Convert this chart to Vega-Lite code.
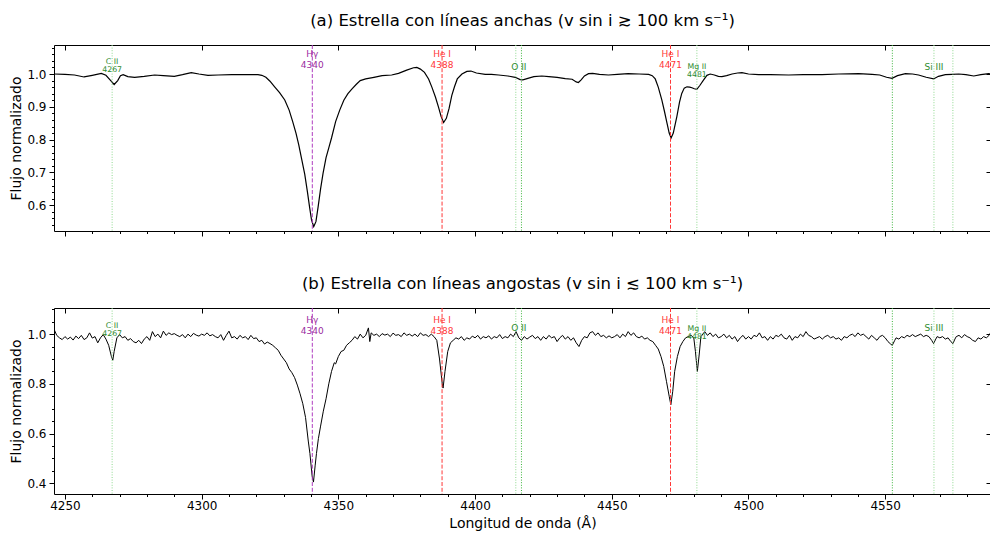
{
"$schema": "https://vega.github.io/schema/vega-lite/v6.json",
"padding": {"left": 9, "top": 12, "right": 0, "bottom": 5},
"spacing": 38,
"config": {"font": "DejaVu Sans", "view": {"stroke": "#000", "strokeWidth": 1}, "axis": {"grid": false, "domain": false, "tickColor": "#000", "labelColor": "#000", "titleColor": "#000", "labelFontSize": 12, "titleFontSize": 14, "titleFontWeight": "normal"}, "title": {"fontSize": 16.5, "fontWeight": "normal", "color": "#000"}},
"datasets": {
"specA": [
{"wl":4246,"flux":1.0},{"wl":4250,"flux":0.999},{"wl":4253.5,"flux":0.997},{"wl":4257,"flux":0.991},{"wl":4260,"flux":0.996},{"wl":4263.3,"flux":1.002},{"wl":4265,"flux":0.996},{"wl":4266.5,"flux":0.982},{"wl":4268,"flux":0.968},{"wl":4269.3,"flux":0.98},{"wl":4270.3,"flux":0.995},{"wl":4271.3,"flux":0.998},{"wl":4273,"flux":0.992},{"wl":4275.5,"flux":0.99},{"wl":4279,"flux":0.993},{"wl":4282.8,"flux":0.997},{"wl":4286,"flux":0.995},{"wl":4290,"flux":0.993},{"wl":4293,"flux":0.998},{"wl":4296.2,"flux":1.004},{"wl":4299,"flux":1.0},{"wl":4302.3,"flux":0.996},{"wl":4306,"flux":0.997},{"wl":4311,"flux":0.998},{"wl":4316,"flux":0.998},{"wl":4320.6,"flux":0.998},{"wl":4322,"flux":0.996},{"wl":4323.5,"flux":0.99},{"wl":4325,"flux":0.978},{"wl":4326.7,"flux":0.961},{"wl":4328.5,"flux":0.943},{"wl":4330.4,"flux":0.921},{"wl":4332,"flux":0.89},{"wl":4333.3,"flux":0.855},{"wl":4334.5,"flux":0.82},{"wl":4335.5,"flux":0.785},{"wl":4336.6,"flux":0.74},{"wl":4337.7,"flux":0.695},{"wl":4338.7,"flux":0.64},{"wl":4339.5,"flux":0.593},{"wl":4340.2,"flux":0.555},{"wl":4341,"flux":0.535},{"wl":4341.8,"flux":0.55},{"wl":4342.6,"flux":0.595},{"wl":4343.5,"flux":0.65},{"wl":4344.4,"flux":0.697},{"wl":4345.5,"flux":0.745},{"wl":4346.5,"flux":0.775},{"wl":4347.5,"flux":0.805},{"wl":4349,"flux":0.855},{"wl":4350.5,"flux":0.89},{"wl":4352,"flux":0.92},{"wl":4353.5,"flux":0.94},{"wl":4355,"flux":0.955},{"wl":4356.5,"flux":0.968},{"wl":4358,"flux":0.98},{"wl":4360,"flux":0.985},{"wl":4363,"flux":0.99},{"wl":4366,"flux":0.995},{"wl":4369.5,"flux":0.997},{"wl":4372,"flux":1.002},{"wl":4375,"flux":1.012},{"wl":4377.5,"flux":1.019},{"wl":4378.7,"flux":1.02},{"wl":4380,"flux":1.015},{"wl":4381.5,"flux":1.005},{"wl":4383,"flux":0.985},{"wl":4384.2,"flux":0.96},{"wl":4385.5,"flux":0.93},{"wl":4386.6,"flux":0.9},{"wl":4387.6,"flux":0.87},{"wl":4388.5,"flux":0.852},{"wl":4389.5,"flux":0.865},{"wl":4390.5,"flux":0.895},{"wl":4391.5,"flux":0.935},{"wl":4392.5,"flux":0.962},{"wl":4393.5,"flux":0.985},{"wl":4395.2,"flux":1.0},{"wl":4397,"flux":1.008},{"wl":4398.5,"flux":1.009},{"wl":4400.5,"flux":1.003},{"wl":4403.7,"flux":0.999},{"wl":4406,"flux":0.999},{"wl":4408.6,"flux":0.997},{"wl":4412,"flux":0.994},{"wl":4414.7,"flux":0.99},{"wl":4416.5,"flux":0.983},{"wl":4417.5,"flux":0.982},{"wl":4419,"flux":0.986},{"wl":4421.5,"flux":0.992},{"wl":4424.4,"flux":0.994},{"wl":4427,"flux":0.992},{"wl":4430,"flux":0.99},{"wl":4433,"flux":0.986},{"wl":4435.5,"flux":0.984},{"wl":4437,"flux":0.976},{"wl":4437.8,"flux":0.974},{"wl":4438.8,"flux":0.982},{"wl":4440,"flux":0.994},{"wl":4441.5,"flux":1.001},{"wl":4443,"flux":1.002},{"wl":4445.5,"flux":0.999},{"wl":4448.8,"flux":0.997},{"wl":4452,"flux":0.999},{"wl":4456,"flux":1.001},{"wl":4460,"flux":1.0},{"wl":4463.5,"flux":0.999},{"wl":4464.8,"flux":0.995},{"wl":4465.9,"flux":0.985},{"wl":4467,"flux":0.96},{"wl":4468.3,"flux":0.921},{"wl":4469.3,"flux":0.885},{"wl":4470.2,"flux":0.85},{"wl":4471,"flux":0.82},{"wl":4471.7,"flux":0.805},{"wl":4472.5,"flux":0.82},{"wl":4473.8,"flux":0.87},{"wl":4474.8,"flux":0.915},{"wl":4475.6,"flux":0.941},{"wl":4476.5,"flux":0.957},{"wl":4477.5,"flux":0.961},{"wl":4478.5,"flux":0.96},{"wl":4479.3,"flux":0.958},{"wl":4480.2,"flux":0.955},{"wl":4481.1,"flux":0.953},{"wl":4482.2,"flux":0.965},{"wl":4483.6,"flux":0.982},{"wl":4484.8,"flux":0.996},{"wl":4486,"flux":1.0},{"wl":4487.5,"flux":0.997},{"wl":4489,"flux":0.993},{"wl":4490.3,"flux":0.992},{"wl":4492,"flux":0.995},{"wl":4494,"flux":1.0},{"wl":4496,"flux":1.003},{"wl":4497.6,"flux":1.004},{"wl":4500,"flux":1.0},{"wl":4503.7,"flux":0.998},{"wl":4508,"flux":0.998},{"wl":4514.7,"flux":0.997},{"wl":4520,"flux":0.998},{"wl":4526.9,"flux":0.998},{"wl":4533,"flux":1.0},{"wl":4540.3,"flux":1.001},{"wl":4545.2,"flux":0.999},{"wl":4548,"flux":0.997},{"wl":4550.5,"flux":0.99},{"wl":4552.5,"flux":0.987},{"wl":4554.5,"flux":0.995},{"wl":4557.4,"flux":1.001},{"wl":4560,"flux":1.0},{"wl":4562.2,"flux":0.997},{"wl":4565,"flux":0.99},{"wl":4567.7,"flux":0.985},{"wl":4569.5,"flux":0.993},{"wl":4572,"flux":0.998},{"wl":4574.5,"flux":0.999},{"wl":4576.9,"flux":1.0},{"wl":4579.5,"flux":0.998},{"wl":4582.4,"flux":0.994},{"wl":4585,"flux":0.998},{"wl":4587.9,"flux":1.001},{"wl":4589,"flux":1.0}
],
"specB": [
{"wl":4246,"flux":1.02},{"wl":4247,"flux":0.995},{"wl":4248,"flux":0.985},{"wl":4249,"flux":0.978},{"wl":4250,"flux":0.99},{"wl":4251,"flux":0.98},{"wl":4252,"flux":0.988},{"wl":4253,"flux":0.976},{"wl":4254,"flux":0.992},{"wl":4255,"flux":0.982},{"wl":4256,"flux":0.995},{"wl":4257,"flux":0.978},{"wl":4258,"flux":0.985},{"wl":4259,"flux":1.005},{"wl":4260,"flux":0.984},{"wl":4261,"flux":0.99},{"wl":4262,"flux":0.965},{"wl":4263,"flux":0.985},{"wl":4264,"flux":0.998},{"wl":4265,"flux":0.98},{"wl":4266,"flux":0.955},{"wl":4267,"flux":0.91},{"wl":4267.5,"flux":0.895},{"wl":4268,"flux":0.93},{"wl":4269,"flux":0.985},{"wl":4270,"flux":0.998},{"wl":4271,"flux":0.985},{"wl":4272,"flux":0.99},{"wl":4273,"flux":0.975},{"wl":4274,"flux":0.982},{"wl":4275,"flux":0.97},{"wl":4276,"flux":0.965},{"wl":4277,"flux":0.975},{"wl":4278,"flux":0.962},{"wl":4279,"flux":0.98},{"wl":4280,"flux":0.99},{"wl":4281,"flux":0.975},{"wl":4282,"flux":1.01},{"wl":4283,"flux":0.99},{"wl":4284,"flux":1.0},{"wl":4285,"flux":0.985},{"wl":4286,"flux":1.012},{"wl":4287,"flux":0.995},{"wl":4288,"flux":1.005},{"wl":4289,"flux":0.998},{"wl":4290,"flux":1.002},{"wl":4291,"flux":0.995},{"wl":4292,"flux":0.99},{"wl":4293,"flux":0.998},{"wl":4294,"flux":0.985},{"wl":4295,"flux":1.0},{"wl":4296,"flux":0.99},{"wl":4297,"flux":1.003},{"wl":4298,"flux":0.996},{"wl":4299,"flux":0.992},{"wl":4300,"flux":1.0},{"wl":4301,"flux":0.995},{"wl":4302,"flux":1.005},{"wl":4303,"flux":0.993},{"wl":4304,"flux":0.998},{"wl":4305,"flux":0.99},{"wl":4306,"flux":0.985},{"wl":4307,"flux":0.998},{"wl":4308,"flux":0.975},{"wl":4309,"flux":0.995},{"wl":4310,"flux":1.012},{"wl":4311,"flux":0.985},{"wl":4312,"flux":0.99},{"wl":4313,"flux":0.98},{"wl":4314,"flux":0.995},{"wl":4315,"flux":0.985},{"wl":4316,"flux":0.99},{"wl":4317,"flux":0.978},{"wl":4318,"flux":0.995},{"wl":4319,"flux":0.982},{"wl":4320,"flux":0.985},{"wl":4321,"flux":0.97},{"wl":4322,"flux":0.975},{"wl":4323,"flux":0.96},{"wl":4324,"flux":0.968},{"wl":4325,"flux":0.962},{"wl":4326,"flux":0.955},{"wl":4327,"flux":0.945},{"wl":4328,"flux":0.935},{"wl":4329,"flux":0.915},{"wl":4330,"flux":0.9},{"wl":4331,"flux":0.885},{"wl":4332,"flux":0.86},{"wl":4333,"flux":0.845},{"wl":4334,"flux":0.825},{"wl":4335,"flux":0.795},{"wl":4336,"flux":0.76},{"wl":4337,"flux":0.72},{"wl":4338,"flux":0.665},{"wl":4339,"flux":0.57},{"wl":4339.6,"flux":0.52},{"wl":4340.4,"flux":0.43},{"wl":4340.9,"flux":0.405},{"wl":4341.5,"flux":0.47},{"wl":4342,"flux":0.52},{"wl":4342.7,"flux":0.58},{"wl":4343.5,"flux":0.63},{"wl":4344.5,"flux":0.69},{"wl":4345.5,"flux":0.74},{"wl":4346.5,"flux":0.8},{"wl":4347.5,"flux":0.85},{"wl":4348.5,"flux":0.885},{"wl":4349,"flux":0.88},{"wl":4350,"flux":0.91},{"wl":4351,"flux":0.93},{"wl":4352,"flux":0.935},{"wl":4353,"flux":0.955},{"wl":4354,"flux":0.965},{"wl":4355,"flux":0.975},{"wl":4356,"flux":0.99},{"wl":4357,"flux":0.98},{"wl":4358,"flux":1.0},{"wl":4359,"flux":0.985},{"wl":4360,"flux":0.995},{"wl":4361,"flux":1.025},{"wl":4361.5,"flux":0.97},{"wl":4362,"flux":1.005},{"wl":4363,"flux":0.995},{"wl":4364,"flux":1.0},{"wl":4365,"flux":0.99},{"wl":4366,"flux":1.002},{"wl":4367,"flux":0.996},{"wl":4368,"flux":1.0},{"wl":4369,"flux":0.99},{"wl":4370,"flux":1.004},{"wl":4371,"flux":0.995},{"wl":4372,"flux":0.998},{"wl":4373,"flux":0.99},{"wl":4374,"flux":1.005},{"wl":4375,"flux":0.995},{"wl":4376,"flux":1.0},{"wl":4377,"flux":0.992},{"wl":4378,"flux":1.0},{"wl":4379,"flux":0.99},{"wl":4380,"flux":1.005},{"wl":4381,"flux":0.995},{"wl":4382,"flux":0.998},{"wl":4383,"flux":0.99},{"wl":4384,"flux":1.0},{"wl":4385,"flux":0.99},{"wl":4386,"flux":0.975},{"wl":4387,"flux":0.9},{"wl":4388,"flux":0.8},{"wl":4388.3,"flux":0.783},{"wl":4389,"flux":0.85},{"wl":4390,"flux":0.93},{"wl":4391,"flux":0.965},{"wl":4392,"flux":0.975},{"wl":4393,"flux":0.985},{"wl":4394,"flux":0.98},{"wl":4395,"flux":0.99},{"wl":4396,"flux":0.975},{"wl":4397,"flux":0.985},{"wl":4398,"flux":0.98},{"wl":4399,"flux":0.992},{"wl":4400,"flux":0.985},{"wl":4401,"flux":0.995},{"wl":4402,"flux":0.98},{"wl":4403,"flux":0.99},{"wl":4404,"flux":0.985},{"wl":4405,"flux":0.993},{"wl":4406,"flux":0.98},{"wl":4407,"flux":0.99},{"wl":4408,"flux":0.985},{"wl":4409,"flux":0.998},{"wl":4410,"flux":0.982},{"wl":4411,"flux":0.99},{"wl":4412,"flux":0.985},{"wl":4413,"flux":1.0},{"wl":4414,"flux":0.99},{"wl":4415,"flux":1.01},{"wl":4416,"flux":0.985},{"wl":4417,"flux":0.975},{"wl":4418,"flux":0.99},{"wl":4419,"flux":0.98},{"wl":4420,"flux":0.988},{"wl":4421,"flux":0.995},{"wl":4422,"flux":0.982},{"wl":4423,"flux":0.99},{"wl":4424,"flux":0.975},{"wl":4425,"flux":0.99},{"wl":4426,"flux":0.98},{"wl":4427,"flux":0.995},{"wl":4428,"flux":0.985},{"wl":4429,"flux":0.99},{"wl":4430,"flux":0.97},{"wl":4431,"flux":0.985},{"wl":4432,"flux":0.995},{"wl":4433,"flux":0.98},{"wl":4434,"flux":0.99},{"wl":4435,"flux":0.975},{"wl":4436,"flux":0.985},{"wl":4437,"flux":0.965},{"wl":4438,"flux":0.95},{"wl":4439,"flux":0.975},{"wl":4440,"flux":0.99},{"wl":4441,"flux":0.985},{"wl":4442,"flux":1.005},{"wl":4443,"flux":1.01},{"wl":4444,"flux":0.995},{"wl":4445,"flux":1.005},{"wl":4446,"flux":0.99},{"wl":4447,"flux":0.995},{"wl":4448,"flux":0.985},{"wl":4449,"flux":0.993},{"wl":4450,"flux":0.985},{"wl":4451,"flux":0.99},{"wl":4452,"flux":0.998},{"wl":4453,"flux":0.985},{"wl":4454,"flux":1.0},{"wl":4455,"flux":0.99},{"wl":4456,"flux":1.01},{"wl":4457,"flux":0.995},{"wl":4458,"flux":1.005},{"wl":4459,"flux":0.99},{"wl":4460,"flux":0.985},{"wl":4461,"flux":0.992},{"wl":4462,"flux":0.98},{"wl":4463,"flux":0.985},{"wl":4464,"flux":0.975},{"wl":4465,"flux":0.97},{"wl":4466,"flux":0.955},{"wl":4467,"flux":0.94},{"wl":4468,"flux":0.91},{"wl":4469,"flux":0.87},{"wl":4470,"flux":0.81},{"wl":4471,"flux":0.75},{"wl":4471.6,"flux":0.716},{"wl":4472.3,"flux":0.77},{"wl":4473,"flux":0.85},{"wl":4474,"flux":0.91},{"wl":4475,"flux":0.95},{"wl":4476,"flux":0.97},{"wl":4477,"flux":0.985},{"wl":4478,"flux":0.99},{"wl":4479,"flux":0.995},{"wl":4480,"flux":0.985},{"wl":4480.6,"flux":0.93},{"wl":4481.3,"flux":0.85},{"wl":4482,"flux":0.92},{"wl":4482.6,"flux":0.99},{"wl":4483,"flux":0.995},{"wl":4484,"flux":1.01},{"wl":4485,"flux":0.995},{"wl":4486,"flux":1.005},{"wl":4487,"flux":0.99},{"wl":4488,"flux":1.0},{"wl":4489,"flux":0.985},{"wl":4490,"flux":0.99},{"wl":4491,"flux":1.0},{"wl":4492,"flux":0.985},{"wl":4493,"flux":0.995},{"wl":4494,"flux":0.98},{"wl":4495,"flux":0.99},{"wl":4496,"flux":0.97},{"wl":4497,"flux":0.985},{"wl":4498,"flux":0.995},{"wl":4499,"flux":0.98},{"wl":4500,"flux":0.99},{"wl":4501,"flux":0.98},{"wl":4502,"flux":0.995},{"wl":4503,"flux":0.99},{"wl":4504,"flux":1.005},{"wl":4505,"flux":0.985},{"wl":4506,"flux":0.99},{"wl":4507,"flux":0.975},{"wl":4508,"flux":0.99},{"wl":4509,"flux":0.98},{"wl":4510,"flux":0.995},{"wl":4511,"flux":0.99},{"wl":4512,"flux":1.0},{"wl":4513,"flux":0.985},{"wl":4514,"flux":0.98},{"wl":4515,"flux":0.995},{"wl":4516,"flux":0.975},{"wl":4517,"flux":0.99},{"wl":4518,"flux":0.985},{"wl":4519,"flux":1.0},{"wl":4520,"flux":0.99},{"wl":4521,"flux":1.01},{"wl":4522,"flux":0.995},{"wl":4523,"flux":0.99},{"wl":4524,"flux":0.98},{"wl":4525,"flux":0.985},{"wl":4526,"flux":0.99},{"wl":4527,"flux":0.98},{"wl":4528,"flux":0.99},{"wl":4529,"flux":0.995},{"wl":4530,"flux":0.985},{"wl":4531,"flux":0.99},{"wl":4532,"flux":0.98},{"wl":4533,"flux":0.985},{"wl":4534,"flux":0.975},{"wl":4535,"flux":0.99},{"wl":4536,"flux":0.985},{"wl":4537,"flux":0.995},{"wl":4538,"flux":1.0},{"wl":4539,"flux":0.99},{"wl":4540,"flux":1.005},{"wl":4541,"flux":0.995},{"wl":4542,"flux":1.0},{"wl":4543,"flux":0.99},{"wl":4544,"flux":0.98},{"wl":4545,"flux":0.995},{"wl":4546,"flux":0.985},{"wl":4547,"flux":0.975},{"wl":4548,"flux":0.99},{"wl":4549,"flux":0.995},{"wl":4550,"flux":0.985},{"wl":4551,"flux":0.97},{"wl":4552,"flux":0.96},{"wl":4552.6,"flux":0.955},{"wl":4553.5,"flux":0.975},{"wl":4554,"flux":0.985},{"wl":4555,"flux":0.98},{"wl":4556,"flux":0.99},{"wl":4557,"flux":0.985},{"wl":4558,"flux":0.995},{"wl":4559,"flux":0.99},{"wl":4560,"flux":0.998},{"wl":4561,"flux":0.99},{"wl":4562,"flux":0.995},{"wl":4563,"flux":1.0},{"wl":4564,"flux":0.99},{"wl":4565,"flux":0.995},{"wl":4566,"flux":0.99},{"wl":4567,"flux":0.975},{"wl":4567.7,"flux":0.962},{"wl":4568.5,"flux":0.98},{"wl":4569,"flux":0.99},{"wl":4570,"flux":0.985},{"wl":4571,"flux":0.99},{"wl":4572,"flux":0.98},{"wl":4573,"flux":0.985},{"wl":4574,"flux":0.97},{"wl":4574.8,"flux":0.962},{"wl":4575.5,"flux":0.98},{"wl":4576,"flux":0.99},{"wl":4577,"flux":0.995},{"wl":4578,"flux":0.985},{"wl":4579,"flux":0.998},{"wl":4580,"flux":0.99},{"wl":4581,"flux":0.985},{"wl":4582,"flux":0.975},{"wl":4583,"flux":0.97},{"wl":4584,"flux":0.985},{"wl":4585,"flux":0.98},{"wl":4586,"flux":0.99},{"wl":4587,"flux":0.985},{"wl":4588,"flux":0.995},{"wl":4588.5,"flux":1.005},{"wl":4589,"flux":0.99}
],
"lines": [
{"wl":4267.26,"ion":"C II","cls":"light"},
{"wl":4340.47,"ion":"Hγ","cls":"H"},
{"wl":4387.93,"ion":"He I","cls":"He"},
{"wl":4414.9,"ion":"O II","cls":"light"},
{"wl":4416.97,"ion":"O II","cls":"dark"},
{"wl":4471.48,"ion":"He I","cls":"He"},
{"wl":4481.13,"ion":"Mg II","cls":"light"},
{"wl":4552.62,"ion":"Si III","cls":"dark"},
{"wl":4567.84,"ion":"Si III","cls":"light"},
{"wl":4574.76,"ion":"Si III","cls":"light"}
],
"labels": [
{"panel":"a","wl":4267.26,"label":"C II\n4267","y":1.0497,"elem":"metal","sz":"small"},
{"panel":"a","wl":4340.47,"label":"Hγ\n4340","y":1.0717,"elem":"H","sz":"big"},
{"panel":"a","wl":4387.93,"label":"He I\n4388","y":1.0717,"elem":"He","sz":"big"},
{"panel":"a","wl":4416.0,"label":"O II","y":1.035,"elem":"metal","sz":"big"},
{"panel":"a","wl":4471.48,"label":"He I\n4471","y":1.0717,"elem":"He","sz":"big"},
{"panel":"a","wl":4481.13,"label":"Mg II\n4481","y":1.033,"elem":"metal","sz":"small"},
{"panel":"a","wl":4567.84,"label":"Si III","y":1.035,"elem":"metal","sz":"big"},
{"panel":"b","wl":4267.26,"label":"C II\n4267","y":1.049,"elem":"metal","sz":"small"},
{"panel":"b","wl":4340.47,"label":"Hγ\n4340","y":1.0736,"elem":"H","sz":"big"},
{"panel":"b","wl":4387.93,"label":"He I\n4388","y":1.0736,"elem":"He","sz":"big"},
{"panel":"b","wl":4416.0,"label":"O II","y":1.0415,"elem":"metal","sz":"big"},
{"panel":"b","wl":4471.48,"label":"He I\n4471","y":1.0736,"elem":"He","sz":"big"},
{"panel":"b","wl":4481.13,"label":"Mg II\n4481","y":1.0358,"elem":"metal","sz":"small"},
{"panel":"b","wl":4567.84,"label":"Si III","y":1.0415,"elem":"metal","sz":"big"}
]
},
"vconcat": [
{
"width": 937, "height": 186,
"title": {"text": "(a) Estrella con líneas anchas (v sin i ≳ 100 km s⁻¹)", "offset": 15},
"resolve": {"axis": {"x": "independent", "y": "independent"}},
"layer": [
{"data": {"name": "specA"}, "mark": {"type": "line", "color": "#000", "strokeWidth": 1.2, "clip": true},
 "encoding": {
  "x": {"field": "wl", "type": "quantitative", "scale": {"domain": [4246, 4588.7], "nice": false, "zero": false}, "axis": {"orient": "bottom", "values": [4250,4300,4350,4400,4450,4500,4550], "labels": false, "tickSize": 5, "title": null}},
  "y": {"field": "flux", "type": "quantitative", "scale": {"domain": [0.5216, 1.0884], "nice": false, "zero": false}, "axis": {"orient": "left", "values": [0.6,0.7,0.8,0.9,1.0], "format": ".1f", "tickSize": 5, "labelPadding": 3, "title": "Flujo normalizado", "titlePadding": 3}}}},
{"data": {"name": "lines"}, "transform": [{"filter": "datum.cls == 'H'"}], "mark": {"type": "rule", "color": "#b03cc0", "strokeDash": [4, 1.8], "strokeWidth": 1}, "encoding": {"x": {"field": "wl", "type": "quantitative", "axis": null}}},
{"data": {"name": "lines"}, "transform": [{"filter": "datum.cls == 'He'"}], "mark": {"type": "rule", "color": "#ff3838", "strokeDash": [4, 1.8], "strokeWidth": 1}, "encoding": {"x": {"field": "wl", "type": "quantitative", "axis": null}}},
{"data": {"name": "lines"}, "transform": [{"filter": "datum.cls == 'light'"}], "mark": {"type": "rule", "color": "#8ed88e", "strokeDash": [1, 1.6], "strokeWidth": 1}, "encoding": {"x": {"field": "wl", "type": "quantitative", "axis": null}}},
{"data": {"name": "lines"}, "transform": [{"filter": "datum.cls == 'dark'"}], "mark": {"type": "rule", "color": "#3cb43c", "strokeDash": [1, 1.6], "strokeWidth": 1}, "encoding": {"x": {"field": "wl", "type": "quantitative", "axis": null}}},
{"data": {"name": "labels"}, "transform": [{"filter": "datum.panel == 'a' && datum.elem == 'H'"}], "mark": {"type": "text", "color": "#9a2ca0", "baseline": "top", "align": "center", "fontSize": 9, "lineHeight": 11, "lineBreak": "\n"},
 "encoding": {
  "x": {"field": "wl", "type": "quantitative", "axis": {"orient": "top", "values": [4250,4300,4350,4400,4450,4500,4550], "labels": false, "tickSize": -5, "title": null}},
  "y": {"field": "y", "type": "quantitative", "axis": {"orient": "right", "values": [0.6,0.7,0.8,0.9,1.0], "labels": false, "tickSize": -5, "title": null}},
  "text": {"field": "label"}}},
{"data": {"name": "labels"}, "transform": [{"filter": "datum.panel == 'a' && datum.elem == 'He'"}], "mark": {"type": "text", "color": "#ff3838", "baseline": "top", "align": "center", "fontSize": 9, "lineHeight": 11, "lineBreak": "\n"},
 "encoding": {
  "x": {"field": "wl", "type": "quantitative", "axis": {"orient": "bottom", "values": [4250,4260,4270,4280,4290,4300,4310,4320,4330,4340,4350,4360,4370,4380,4390,4400,4410,4420,4430,4440,4450,4460,4470,4480,4490,4500,4510,4520,4530,4540,4550,4560,4570,4580], "labels": false, "tickSize": 2.5, "title": null}},
  "y": {"field": "y", "type": "quantitative", "axis": {"orient": "left", "values": [0.54,0.56,0.58,0.62,0.64,0.66,0.68,0.72,0.74,0.76,0.78,0.82,0.84,0.86,0.88,0.92,0.94,0.96,0.98,1.02,1.04,1.06,1.08], "labels": false, "tickSize": 2.5, "title": null}},
  "text": {"field": "label"}}},
{"data": {"name": "labels"}, "transform": [{"filter": "datum.panel == 'a' && datum.sz == 'big' && datum.elem == 'metal'"}], "mark": {"type": "text", "color": "#2e8b2e", "baseline": "top", "align": "center", "fontSize": 9, "lineHeight": 11, "lineBreak": "\n"},
 "encoding": {"x": {"field": "wl", "type": "quantitative", "axis": null}, "y": {"field": "y", "type": "quantitative", "axis": null}, "text": {"field": "label"}}},
{"data": {"name": "labels"}, "transform": [{"filter": "datum.panel == 'a' && datum.sz == 'small'"}], "mark": {"type": "text", "color": "#2e8b2e", "baseline": "top", "align": "center", "fontSize": 7.8, "lineHeight": 8, "lineBreak": "\n"},
 "encoding": {"x": {"field": "wl", "type": "quantitative", "axis": null}, "y": {"field": "y", "type": "quantitative", "axis": null}, "text": {"field": "label"}}}
]
},
{
"width": 937, "height": 186,
"title": {"text": "(b) Estrella con líneas angostas (v sin i ≲ 100 km s⁻¹)", "offset": 15},
"resolve": {"axis": {"x": "independent", "y": "independent"}},
"layer": [
{"data": {"name": "specB"}, "mark": {"type": "line", "color": "#000", "strokeWidth": 1, "clip": true},
 "encoding": {
  "x": {"field": "wl", "type": "quantitative", "scale": {"domain": [4246, 4588.7], "nice": false, "zero": false}, "axis": {"orient": "bottom", "values": [4250,4300,4350,4400,4450,4500,4550], "format": "d", "tickSize": 5, "labelPadding": 1, "title": "Longitud de onda (Å)", "titlePadding": 5}},
  "y": {"field": "flux", "type": "quantitative", "scale": {"domain": [0.357, 1.105], "nice": false, "zero": false}, "axis": {"orient": "left", "values": [0.4,0.6,0.8,1.0], "format": ".1f", "tickSize": 5, "labelPadding": 3, "title": "Flujo normalizado", "titlePadding": 3}}}},
{"data": {"name": "lines"}, "transform": [{"filter": "datum.cls == 'H'"}], "mark": {"type": "rule", "color": "#b03cc0", "strokeDash": [4, 1.8], "strokeWidth": 1}, "encoding": {"x": {"field": "wl", "type": "quantitative", "axis": null}}},
{"data": {"name": "lines"}, "transform": [{"filter": "datum.cls == 'He'"}], "mark": {"type": "rule", "color": "#ff3838", "strokeDash": [4, 1.8], "strokeWidth": 1}, "encoding": {"x": {"field": "wl", "type": "quantitative", "axis": null}}},
{"data": {"name": "lines"}, "transform": [{"filter": "datum.cls == 'light'"}], "mark": {"type": "rule", "color": "#8ed88e", "strokeDash": [1, 1.6], "strokeWidth": 1}, "encoding": {"x": {"field": "wl", "type": "quantitative", "axis": null}}},
{"data": {"name": "lines"}, "transform": [{"filter": "datum.cls == 'dark'"}], "mark": {"type": "rule", "color": "#3cb43c", "strokeDash": [1, 1.6], "strokeWidth": 1}, "encoding": {"x": {"field": "wl", "type": "quantitative", "axis": null}}},
{"data": {"name": "labels"}, "transform": [{"filter": "datum.panel == 'b' && datum.elem == 'H'"}], "mark": {"type": "text", "color": "#9a2ca0", "baseline": "top", "align": "center", "fontSize": 9, "lineHeight": 11, "lineBreak": "\n"},
 "encoding": {
  "x": {"field": "wl", "type": "quantitative", "axis": {"orient": "top", "values": [4250,4300,4350,4400,4450,4500,4550], "labels": false, "tickSize": -5, "title": null}},
  "y": {"field": "y", "type": "quantitative", "axis": {"orient": "right", "values": [0.4,0.6,0.8,1.0], "labels": false, "tickSize": -5, "title": null}},
  "text": {"field": "label"}}},
{"data": {"name": "labels"}, "transform": [{"filter": "datum.panel == 'b' && datum.elem == 'He'"}], "mark": {"type": "text", "color": "#ff3838", "baseline": "top", "align": "center", "fontSize": 9, "lineHeight": 11, "lineBreak": "\n"},
 "encoding": {
  "x": {"field": "wl", "type": "quantitative", "axis": {"orient": "bottom", "values": [4250,4260,4270,4280,4290,4300,4310,4320,4330,4340,4350,4360,4370,4380,4390,4400,4410,4420,4430,4440,4450,4460,4470,4480,4490,4500,4510,4520,4530,4540,4550,4560,4570,4580], "labels": false, "tickSize": 2.5, "title": null}},
  "y": {"field": "y", "type": "quantitative", "axis": {"orient": "left", "values": [0.45,0.5,0.55,0.65,0.7,0.75,0.85,0.9,0.95,1.05,1.1], "labels": false, "tickSize": 2.5, "title": null}},
  "text": {"field": "label"}}},
{"data": {"name": "labels"}, "transform": [{"filter": "datum.panel == 'b' && datum.sz == 'big' && datum.elem == 'metal'"}], "mark": {"type": "text", "color": "#2e8b2e", "baseline": "top", "align": "center", "fontSize": 9, "lineHeight": 11, "lineBreak": "\n"},
 "encoding": {"x": {"field": "wl", "type": "quantitative", "axis": null}, "y": {"field": "y", "type": "quantitative", "axis": null}, "text": {"field": "label"}}},
{"data": {"name": "labels"}, "transform": [{"filter": "datum.panel == 'b' && datum.sz == 'small'"}], "mark": {"type": "text", "color": "#2e8b2e", "baseline": "top", "align": "center", "fontSize": 7.8, "lineHeight": 8, "lineBreak": "\n"},
 "encoding": {"x": {"field": "wl", "type": "quantitative", "axis": null}, "y": {"field": "y", "type": "quantitative", "axis": null}, "text": {"field": "label"}}}
]
}
]
}
